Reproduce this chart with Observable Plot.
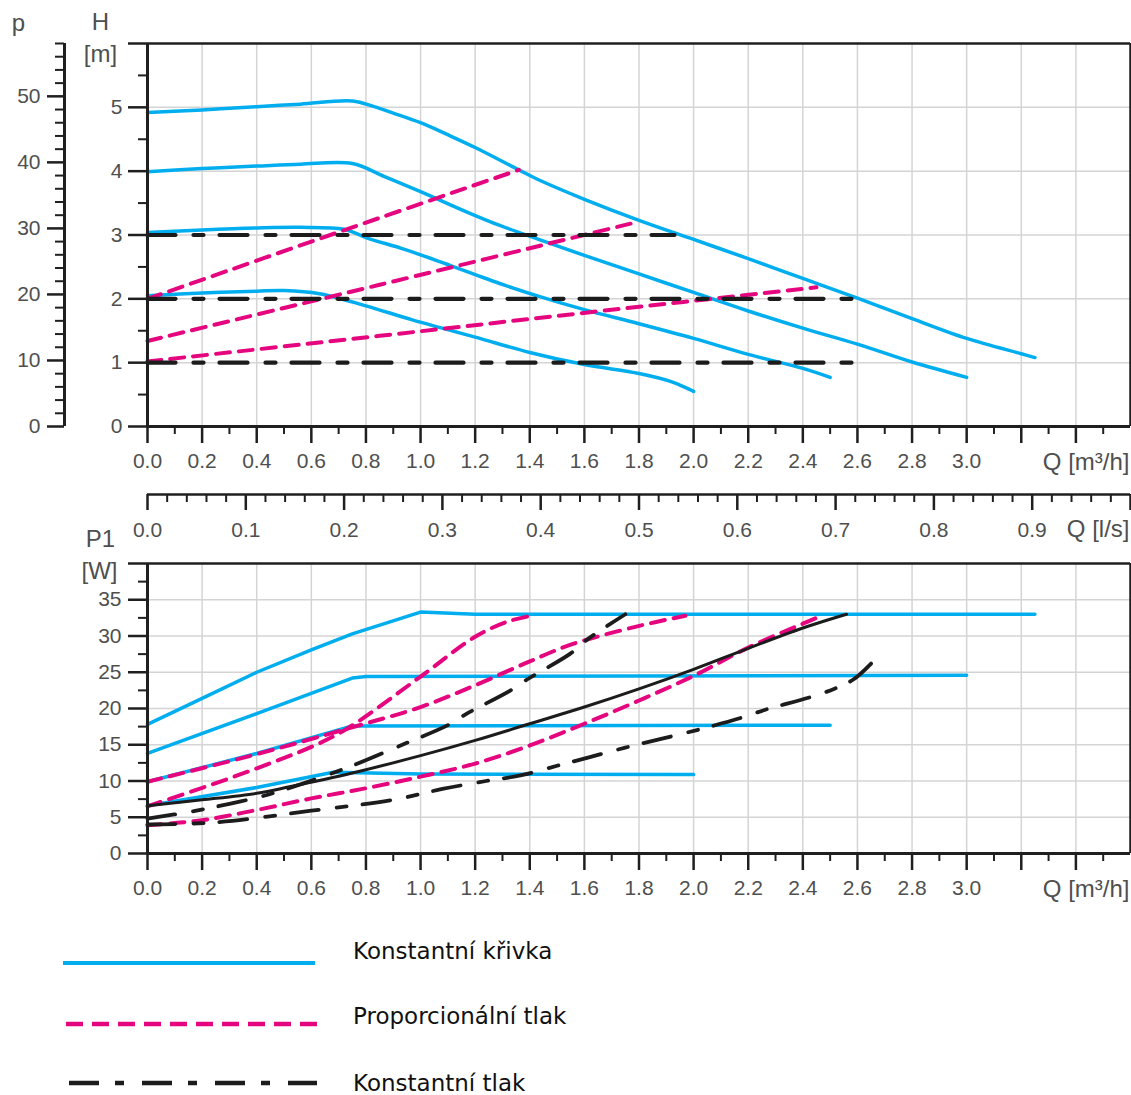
<!DOCTYPE html>
<html>
<head>
<meta charset="utf-8">
<script src="https://cdn.jsdelivr.net/npm/d3@7"></script>
<script src="https://cdn.jsdelivr.net/npm/@observablehq/plot@0.6"></script>
<style>
  body { margin: 0; background: #ffffff; }
  #wrap { position: relative; width: 1131px; height: 1095px; overflow: hidden; background: #ffffff; }
  g[aria-label="unit-label"] text { letter-spacing: 3px; }
</style>
</head>
<body>
<div id="wrap"></div>
<script>
// ---------------- DATA ----------------
// tick values / labels
const qMajor = [0.0, 0.2, 0.4, 0.6, 0.8, 1.0, 1.2, 1.4, 1.6, 1.8, 2.0, 2.2, 2.4, 2.6, 2.8, 3.0, 3.2, 3.4];
const qMinor = [0.1, 0.3, 0.5, 0.7, 0.9, 1.1, 1.3, 1.5, 1.7, 1.9, 2.1, 2.3, 2.5, 2.7, 2.9, 3.1, 3.3, 3.5];
const qLabelMax = 3.0;
const hMajor = [0, 1, 2, 3, 4, 5, 6];
const hMinor = [0.5, 1.5, 2.5, 3.5, 4.5, 5.5];
const pMajor = [0, 10, 20, 30, 40, 50];
const pMinor = [2, 4, 6, 8, 12, 14, 16, 18, 22, 24, 26, 28, 32, 34, 36, 38, 42, 44, 46, 48, 52, 54, 56, 58];
const lsMajor = [0.0, 0.1, 0.2, 0.3, 0.4, 0.5, 0.6, 0.7, 0.8, 0.9, 1.0];
const lsMinor = [0.02,0.04,0.06,0.08,0.12,0.14,0.16,0.18,0.22,0.24,0.26,0.28,0.32,0.34,0.36,0.38,
                 0.42,0.44,0.46,0.48,0.52,0.54,0.56,0.58,0.62,0.64,0.66,0.68,0.72,0.74,0.76,0.78,
                 0.82,0.84,0.86,0.88,0.92,0.94,0.96,0.98];
const lsLabelMax = 0.9;
const wMajor = [0, 5, 10, 15, 20, 25, 30, 35, 40];
const wMinor = [2.5, 7.5, 12.5, 17.5, 22.5, 27.5, 32.5, 37.5];

// H [m] vs Q [m3/h] -- constant curves
const hConst1 = [[0,4.92],[0.2,4.96],[0.4,5.01],[0.56,5.05],[0.75,5.1],[0.83,5.01],[0.9,4.91],[1.0,4.76],[1.11,4.55],[1.2,4.37],[1.36,4.02],[1.44,3.85],[1.6,3.56],[1.8,3.23],[2.0,2.93],[2.2,2.63],[2.4,2.32],[2.6,2.01],[2.8,1.69],[3.0,1.38],[3.2,1.14],[3.25,1.08]];
const hConst2 = [[0,3.99],[0.2,4.04],[0.4,4.08],[0.56,4.11],[0.75,4.12],[0.866,3.92],[1.0,3.68],[1.17,3.36],[1.29,3.15],[1.44,2.92],[1.6,2.68],[1.8,2.39],[2.0,2.1],[2.2,1.81],[2.4,1.54],[2.6,1.29],[2.8,1.01],[3.0,0.77]];
const hConst3 = [[0,3.04],[0.2,3.08],[0.4,3.11],[0.56,3.12],[0.72,3.09],[0.8,2.96],[0.93,2.79],[1.0,2.69],[1.11,2.52],[1.2,2.38],[1.29,2.24],[1.44,2.03],[1.6,1.83],[1.8,1.61],[2.0,1.38],[2.2,1.13],[2.4,0.91],[2.5,0.77]];
const hConst4 = [[0,2.05],[0.2,2.09],[0.4,2.12],[0.5,2.13],[0.63,2.08],[0.8,1.89],[0.97,1.67],[1.2,1.4],[1.4,1.16],[1.6,0.97],[1.8,0.83],[1.92,0.7],[2.0,0.55]];
// proportional pressure
const hProp1 = [[0,2.0],[0.75,3.12],[1.36,4.02]];
const hProp2 = [[0,1.34],[0.85,2.22],[1.8,3.21]];
const hProp3 = [[0,1.02],[0.85,1.42],[1.62,1.79],[2.45,2.18]];
// constant pressure
const hCP1 = [[0,3],[1.93,3]];
const hCP2 = [[0,2],[2.59,2]];
const hCP3 = [[0,1],[2.59,1]];

// P1 [W] vs Q [m3/h]
const wConst1 = [[0,17.8],[0.2,21.4],[0.4,25.0],[0.6,28.1],[0.75,30.3],[1.0,33.3],[1.2,33.0],[3.25,33.0]];
const wConst2 = [[0,13.8],[0.4,19.3],[0.75,24.2],[0.8,24.4],[3.0,24.6]];
const wConst3 = [[0,9.9],[0.4,13.8],[0.75,17.6],[2.5,17.7]];
const wConst4 = [[0,6.6],[0.4,9.1],[0.68,11.2],[1.0,10.95],[2.0,10.9]];
const wProp1 = [[0,9.9],[0.4,13.7],[0.73,17.2],[1.0,20.2],[1.2,23.2],[1.4,26.5],[1.55,28.8],[1.79,31.3],[1.97,32.8]];
const wProp2 = [[0,6.5],[0.28,10.1],[0.46,12.6],[0.6,14.7],[0.73,17.2],[1.0,24.4],[1.2,29.9],[1.32,32.0],[1.42,32.9]];
const wProp3 = [[0,3.9],[0.2,4.6],[0.4,6.0],[0.6,7.6],[0.8,9.0],[1.0,10.6],[1.2,12.4],[1.4,14.9],[1.6,17.9],[1.8,21.1],[2.0,24.5],[2.2,28.4],[2.4,31.7],[2.47,32.8]];
const wCP1 = [[0,4.8],[0.17,5.85],[0.3,6.85],[0.43,8.0],[0.585,9.85],[0.756,12.2],[0.927,14.9],[1.1,17.7],[1.165,19.2],[1.33,22.5],[1.39,24.0],[1.55,27.6],[1.61,29.5],[1.75,33.0]];
const wCP2 = [[0,4.0],[0.25,4.3],[0.6,5.9],[0.9,7.4],[1.08,8.9],[1.24,10.0],[1.37,10.8],[1.5,12.1],[1.62,13.3],[1.75,14.6],[2.03,17.2],[2.19,18.9],[2.26,19.8],[2.44,21.7],[2.52,22.8],[2.585,24.0],[2.65,26.2]];
const wSolid = [[0,6.6],[0.2,7.4],[0.4,8.3],[0.52,9.2],[0.75,11.1],[1.0,13.5],[1.2,15.6],[1.4,17.9],[1.6,20.2],[1.8,22.7],[2.0,25.4],[2.2,28.3],[2.4,31.1],[2.56,33.0]];

const legendLabels = ["Konstantní křivka", "Proporcionální tlak", "Konstantní tlak"];

// ---------------- STYLE ----------------
const W = 1131;
const blue = "#00aeef", magenta = "#e5067f", black = "#1c1c1c";
const ink = "#1f1f1f", grey = "#4f4f4f", gridColor = "#d4d4d4";
const tickFont = "'Liberation Sans', Arial, Helvetica, sans-serif";
const dashProp = "14,9", dashCP = "28,18,10,16";
const baseStyle = {fontFamily: tickFont, fontSize: "21px", color: grey, background: "transparent", overflow: "visible"};
const xScale = {domain: [0, 3.6], range: [147, 1130], axis: null};
const labelText = {fill: grey, fontSize: 24, textAnchor: "middle", lineAnchor: "middle"};

const rows = (curves) => curves.flatMap((c, i) => c.map(([q, v]) => ({q, v, id: i})));
const fmtQ = d => d > qLabelMax + 1e-6 ? "" : d.toFixed(1);

const wrap = document.getElementById("wrap");
function place(svg) {
  svg.style.position = "absolute";
  svg.style.left = "0px";
  svg.style.top = "0px";
  svg.style.maxWidth = "none";
  wrap.appendChild(svg);
}

function qAxes() {
  return [
    Plot.axisX(qMajor, {anchor: "bottom", tickSize: 17, tickPadding: 10, tickFormat: fmtQ, stroke: ink, strokeWidth: 2.5, fill: grey, label: null}),
    Plot.axisX(qMinor, {anchor: "bottom", tickSize: 8, tickFormat: () => "", stroke: ink, strokeWidth: 2, fill: "none", label: null}),
    Plot.text(["Q [m³/h]"], {frameAnchor: "bottom-right", dx: -1, dy: 36, textAnchor: "end", lineAnchor: "middle", fill: grey, fontSize: 24, ariaLabel: "unit-label"})
  ];
}

// ---------------- TOP: H vs Q ----------------
const topPlot = Plot.plot({
  width: W, height: 480,
  marginLeft: 147, marginRight: 1, marginTop: 43, marginBottom: 54,
  x: xScale,
  y: {domain: [0, 6], range: [426, 43], axis: null},
  style: baseStyle,
  marks: [
    Plot.gridX(qMajor.filter(d => d > 0), {stroke: gridColor, strokeOpacity: 1, strokeWidth: 1.5}),
    Plot.gridY(hMajor.filter(d => d > 0 && d < 6), {stroke: gridColor, strokeOpacity: 1, strokeWidth: 1.5}),
    Plot.line(rows([hConst1, hConst2, hConst3, hConst4]), {x: "q", y: "v", z: "id", stroke: blue, strokeWidth: 3.5, curve: "catmull-rom"}),
    Plot.line(rows([hProp1, hProp2, hProp3]), {x: "q", y: "v", z: "id", stroke: magenta, strokeWidth: 4, strokeDasharray: dashProp, curve: "catmull-rom"}),
    Plot.line(rows([hCP1, hCP2, hCP3]), {x: "q", y: "v", z: "id", stroke: black, strokeWidth: 4.2, strokeDasharray: dashCP}),
    Plot.ruleY([6], {stroke: ink, strokeWidth: 2.5}),
    Plot.ruleX([3.6], {stroke: ink, strokeWidth: 2.5}),
    Plot.ruleX([0], {stroke: ink, strokeWidth: 3}),
    Plot.ruleY([0], {stroke: ink, strokeWidth: 3}),
    Plot.axisY(hMajor, {anchor: "left", tickSize: 19, tickPadding: 6, tickFormat: d => d === 6 ? "" : String(d), stroke: ink, strokeWidth: 2.5, fill: grey, label: null}),
    Plot.axisY(hMinor, {anchor: "left", tickSize: 9, tickFormat: () => "", stroke: ink, strokeWidth: 2, fill: "none", label: null}),
    ...qAxes(),
    Plot.text(["H"], {frameAnchor: "top-left", dx: -47, dy: -21, ...labelText}),
    Plot.text(["[m]"], {frameAnchor: "top-left", dx: -47, dy: 11, ...labelText})
  ]
});
place(topPlot);

// ---------------- p [kPa] axis ----------------
const pPlot = Plot.plot({
  width: 147, height: 480,
  marginLeft: 64, marginRight: 0, marginTop: 43, marginBottom: 54,
  x: {domain: [0, 1], range: [64, 147], axis: null},
  y: {domain: [0, 58], range: [426, 43], axis: null},
  style: baseStyle,
  marks: [
    Plot.ruleX([0], {stroke: ink, strokeWidth: 3}),
    Plot.axisY(pMajor, {anchor: "left", tickSize: 17, tickPadding: 7, tickFormat: d => String(d), stroke: ink, strokeWidth: 2.5, fill: grey, label: null}),
    Plot.axisY(pMinor, {anchor: "left", tickSize: 9, tickFormat: () => "", stroke: ink, strokeWidth: 2, fill: "none", label: null}),
    Plot.text(["p"], {frameAnchor: "top-left", dx: -46, dy: -20, ...labelText})
  ]
});
place(pPlot);

// ---------------- Q [l/s] axis ----------------
const lsPlot = Plot.plot({
  width: W, height: 560,
  marginLeft: 147, marginRight: 1, marginTop: 440, marginBottom: 66,
  x: {domain: [0, 1], range: [147, 1130], axis: null},
  y: {domain: [0, 1], range: [494, 440], axis: null},
  style: baseStyle,
  marks: [
    Plot.ruleY([0], {stroke: ink, strokeWidth: 2.5}),
    Plot.axisX(lsMajor, {anchor: "bottom", tickSize: 16, tickPadding: 12, tickFormat: d => d > lsLabelMax + 1e-6 ? "" : d.toFixed(1), stroke: ink, strokeWidth: 2.5, fill: grey, label: null}),
    Plot.axisX(lsMinor, {anchor: "bottom", tickSize: 8, tickFormat: () => "", stroke: ink, strokeWidth: 2, fill: "none", label: null}),
    Plot.text(["Q [l/s]"], {frameAnchor: "bottom-right", dx: -1, dy: 35, textAnchor: "end", lineAnchor: "middle", fill: grey, fontSize: 24, ariaLabel: "unit-label"})
  ]
});
place(lsPlot);

// ---------------- BOTTOM: P1 vs Q ----------------
const botPlot = Plot.plot({
  width: W, height: 910,
  marginLeft: 147, marginRight: 1, marginTop: 563, marginBottom: 57,
  x: xScale,
  y: {domain: [0, 40], range: [853, 563], axis: null},
  style: baseStyle,
  marks: [
    Plot.gridX(qMajor.filter(d => d > 0), {stroke: gridColor, strokeOpacity: 1, strokeWidth: 1.5}),
    Plot.gridY(wMajor.filter(d => d > 0 && d < 40), {stroke: gridColor, strokeOpacity: 1, strokeWidth: 1.5}),
    Plot.line(rows([wConst1, wConst2, wConst3, wConst4]), {x: "q", y: "v", z: "id", stroke: blue, strokeWidth: 3.5}),
    Plot.line(rows([wProp1, wProp2, wProp3]), {x: "q", y: "v", z: "id", stroke: magenta, strokeWidth: 4, strokeDasharray: dashProp, curve: "catmull-rom"}),
    Plot.line(rows([wCP1, wCP2]), {x: "q", y: "v", z: "id", stroke: black, strokeWidth: 3.8, strokeDasharray: dashCP, curve: "catmull-rom"}),
    Plot.line(wSolid, {x: d => d[0], y: d => d[1], stroke: black, strokeWidth: 3, curve: "catmull-rom"}),
    Plot.ruleY([40], {stroke: ink, strokeWidth: 2.5}),
    Plot.ruleX([3.6], {stroke: ink, strokeWidth: 2.5}),
    Plot.ruleX([0], {stroke: ink, strokeWidth: 3}),
    Plot.ruleY([0], {stroke: ink, strokeWidth: 3}),
    Plot.axisY(wMajor, {anchor: "left", tickSize: 19, tickPadding: 7, tickFormat: d => d === 40 ? "" : String(d), stroke: ink, strokeWidth: 2.5, fill: grey, label: null}),
    Plot.axisY(wMinor, {anchor: "left", tickSize: 9, tickFormat: () => "", stroke: ink, strokeWidth: 2, fill: "none", label: null}),
    ...qAxes(),
    Plot.text(["P1"], {frameAnchor: "top-left", dx: -47, dy: -24, ...labelText}),
    Plot.text(["[W]"], {frameAnchor: "top-left", dx: -48, dy: 8, ...labelText})
  ]
});
place(botPlot);

// ---------------- LEGEND ----------------
const legendStyles = [
  {stroke: blue, width: 4, dash: null, x1: 63, x2: 315, y: 963, ty: 951},
  {stroke: magenta, width: 4.5, dash: "17,9", x1: 66, x2: 318, y: 1024, ty: 1016},
  {stroke: black, width: 4.5, dash: "30,16,9,18", x1: 69, x2: 317, y: 1083, ty: 1083}
];
const leg = d3.create("svg")
  .attr("width", W).attr("height", 1095)
  .style("position", "absolute").style("left", "0px").style("top", "0px");
legendLabels.forEach((label, i) => {
  const s = legendStyles[i];
  leg.append("line")
    .attr("x1", s.x1).attr("x2", s.x2).attr("y1", s.y).attr("y2", s.y)
    .attr("stroke", s.stroke).attr("stroke-width", s.width)
    .attr("stroke-dasharray", s.dash);
  leg.append("text")
    .attr("x", 353).attr("y", s.ty).attr("dy", "0.35em")
    .attr("font-family", "'DejaVu Sans', sans-serif")
    .attr("font-size", 23)
    .attr("fill", "#111")
    .text(label);
});
wrap.appendChild(leg.node());
</script>
</body>
</html>
